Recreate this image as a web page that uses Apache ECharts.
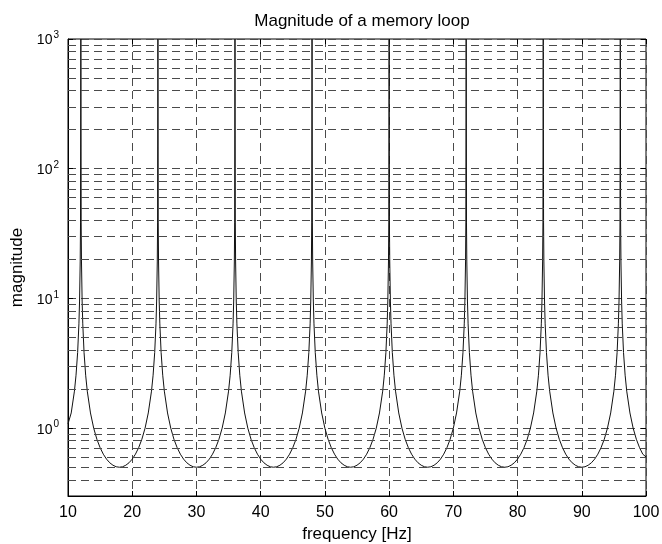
<!DOCTYPE html>
<html>
<head>
<meta charset="utf-8">
<script src="https://cdn.jsdelivr.net/npm/echarts@6/dist/echarts.min.js"></script>
<style>
  html, body { margin: 0; padding: 0; background: #fff; }
  #chart { width: 662px; height: 544px; }
</style>
</head>
<body>
<div id="chart"></div>
<script>
// Frequency samples (Hz), denser near each resonance peak
const frequency = [
  10, 10.5, 11, 11.25, 11.5, 11.7, 11.8, 11.9, 11.95, 12, 12.05, 12.1, 12.2, 12.3, 12.5, 12.75, 13, 13.5, 14, 14.5, 15, 15.5, 16, 16.5, 17, 17.5,
  18, 18.5, 19, 19.5, 20, 20.5, 21, 21.5, 22, 22.5, 23, 23.25, 23.5, 23.7, 23.8, 23.9, 23.95, 24, 24.05, 24.1, 24.2, 24.3, 24.5, 24.75, 25, 25.5, 26, 26.5, 27, 27.5, 28, 28.5, 29, 29.5,
  30, 30.5, 31, 31.5, 32, 32.5, 33, 33.5, 34, 34.5, 35, 35.25, 35.5, 35.7, 35.8, 35.9, 35.95, 36, 36.05, 36.1, 36.2, 36.3, 36.5, 36.75, 37, 37.5, 38, 38.5, 39, 39.5, 40, 40.5, 41, 41.5,
  42, 42.5, 43, 43.5, 44, 44.5, 45, 45.5, 46, 46.5, 47, 47.25, 47.5, 47.7, 47.8, 47.9, 47.95, 48, 48.05, 48.1, 48.2, 48.3, 48.5, 48.75, 49, 49.5, 50, 50.5, 51, 51.5, 52, 52.5, 53, 53.5,
  54, 54.5, 55, 55.5, 56, 56.5, 57, 57.5, 58, 58.5, 59, 59.25, 59.5, 59.7, 59.8, 59.9, 59.95, 60, 60.05, 60.1, 60.2, 60.3, 60.5, 60.75, 61, 61.5, 62, 62.5, 63, 63.5, 64, 64.5, 65, 65.5,
  66, 66.5, 67, 67.5, 68, 68.5, 69, 69.5, 70, 70.5, 71, 71.25, 71.5, 71.7, 71.8, 71.9, 71.95, 72, 72.05, 72.1, 72.2, 72.3, 72.5, 72.75, 73, 73.5, 74, 74.5, 75, 75.5, 76, 76.5, 77, 77.5,
  78, 78.5, 79, 79.5, 80, 80.5, 81, 81.5, 82, 82.5, 83, 83.25, 83.5, 83.7, 83.8, 83.9, 83.95, 84, 84.05, 84.1, 84.2, 84.3, 84.5, 84.75, 85, 85.5, 86, 86.5, 87, 87.5, 88, 88.5, 89, 89.5,
  90, 90.5, 91, 91.5, 92, 92.5, 93, 93.5, 94, 94.5, 95, 95.25, 95.5, 95.7, 95.8, 95.9, 95.95, 96, 96.05, 96.1, 96.2, 96.3, 96.5, 96.75, 97, 97.5, 98, 98.5, 99, 99.5, 100
];

// Loop magnitude at each frequency sample
const magnitude = [
  1.08, 1.31, 1.93, 2.56, 3.83, 6.37, 9.55, 19.1, 38.2, 1000, 38.2, 19.1, 9.55, 6.37, 3.83, 2.56, 1.93, 1.31, 1.0, 0.821, 0.707, 0.63, 0.577, 0.541, 0.518, 0.504,
  0.5, 0.504, 0.518, 0.541, 0.577, 0.63, 0.707, 0.821, 1.0, 1.31, 1.93, 2.56, 3.83, 6.37, 9.55, 19.1, 38.2, 1000, 38.2, 19.1, 9.55, 6.37, 3.83, 2.56, 1.93, 1.31, 1.0, 0.821, 0.707, 0.63, 0.577, 0.541, 0.518, 0.504,
  0.5, 0.504, 0.518, 0.541, 0.577, 0.63, 0.707, 0.821, 1.0, 1.31, 1.93, 2.56, 3.83, 6.37, 9.55, 19.1, 38.2, 1000, 38.2, 19.1, 9.55, 6.37, 3.83, 2.56, 1.93, 1.31, 1.0, 0.821, 0.707, 0.63, 0.577, 0.541, 0.518, 0.504,
  0.5, 0.504, 0.518, 0.541, 0.577, 0.63, 0.707, 0.821, 1.0, 1.31, 1.93, 2.56, 3.83, 6.37, 9.55, 19.1, 38.2, 1000, 38.2, 19.1, 9.55, 6.37, 3.83, 2.56, 1.93, 1.31, 1.0, 0.821, 0.707, 0.63, 0.577, 0.541, 0.518, 0.504,
  0.5, 0.504, 0.518, 0.541, 0.577, 0.63, 0.707, 0.821, 1.0, 1.31, 1.93, 2.56, 3.83, 6.37, 9.55, 19.1, 38.2, 1000, 38.2, 19.1, 9.55, 6.37, 3.83, 2.56, 1.93, 1.31, 1.0, 0.821, 0.707, 0.63, 0.577, 0.541, 0.518, 0.504,
  0.5, 0.504, 0.518, 0.541, 0.577, 0.63, 0.707, 0.821, 1.0, 1.31, 1.93, 2.56, 3.83, 6.37, 9.55, 19.1, 38.2, 1000, 38.2, 19.1, 9.55, 6.37, 3.83, 2.56, 1.93, 1.31, 1.0, 0.821, 0.707, 0.63, 0.577, 0.541, 0.518, 0.504,
  0.5, 0.504, 0.518, 0.541, 0.577, 0.63, 0.707, 0.821, 1.0, 1.31, 1.93, 2.56, 3.83, 6.37, 9.55, 19.1, 38.2, 1000, 38.2, 19.1, 9.55, 6.37, 3.83, 2.56, 1.93, 1.31, 1.0, 0.821, 0.707, 0.63, 0.577, 0.541, 0.518, 0.504,
  0.5, 0.504, 0.518, 0.541, 0.577, 0.63, 0.707, 0.821, 1.0, 1.31, 1.93, 2.56, 3.83, 6.37, 9.55, 19.1, 38.2, 1000, 38.2, 19.1, 9.55, 6.37, 3.83, 2.56, 1.93, 1.31, 1.0, 0.821, 0.707, 0.63, 0.6
];

// Axis ranges and grid levels
const xRange = [10, 100];
const xStep = 10;
const yRange = [0.3, 1000];
const minorLevels = [
  0.4, 0.5, 0.6, 0.7, 0.8, 0.9,
  2, 3, 4, 5, 6, 7, 8, 9,
  20, 30, 40, 50, 60, 70, 80, 90,
  200, 300, 400, 500, 600, 700, 800, 900
];

const FONT = '"Liberation Sans", Arial, Helvetica, sans-serif';
const GRID_COLOR = '#4a4a4a';
const DASH = [8, 5];

const chart = echarts.init(document.getElementById('chart'), null, { renderer: 'canvas' });

function decadeLabel(v) {
  const e = Math.log10(v);
  const r = Math.round(e);
  if (Math.abs(e - r) > 1e-6) return '';
  return '{b|10}{s|' + r + '}';
}

chart.setOption({
  animation: false,
  backgroundColor: '#fff',
  title: {
    text: 'Magnitude of a memory loop',
    left: 357,
    top: 8,
    textAlign: 'center',
    textStyle: { fontFamily: FONT, fontSize: 17, fontWeight: 'normal', color: '#000' }
  },
  grid: {
    left: 68, right: 16, top: 39, bottom: 48,
    containLabel: false,
    outerBoundsMode: 'none',
    show: true, borderColor: '#000', borderWidth: 1, backgroundColor: 'transparent'
  },
  xAxis: [{
    type: 'value',
    min: xRange[0], max: xRange[1], interval: xStep,
    name: 'frequency [Hz]',
    nameLocation: 'middle',
    nameGap: 30,
    nameTextStyle: { fontFamily: FONT, fontSize: 17, color: '#000' },
    axisLine: { show: true, lineStyle: { color: '#000', width: 1 } },
    axisTick: { show: true, inside: true, length: 5, lineStyle: { color: '#000' } },
    axisLabel: { fontFamily: FONT, fontSize: 16, color: '#000', margin: 9 },
    splitLine: { show: true, lineStyle: { color: GRID_COLOR, type: DASH, width: 1 } }
  }, {
    type: 'value',
    position: 'top',
    min: xRange[0], max: xRange[1], interval: xStep,
    axisLine: { show: false },
    axisTick: { show: true, inside: true, length: 5, lineStyle: { color: '#000' } },
    axisLabel: { show: false },
    splitLine: { show: false }
  }],
  yAxis: [{
    type: 'log',
    logBase: 10,
    min: yRange[0], max: yRange[1],
    name: 'magnitude',
    nameLocation: 'middle',
    nameGap: 42,
    nameRotate: 90,
    nameTextStyle: { fontFamily: FONT, fontSize: 17, color: '#000' },
    axisLine: { show: true, lineStyle: { color: '#000', width: 1 } },
    axisTick: { show: true, inside: true, length: 5, lineStyle: { color: '#000' } },
    axisLabel: {
      margin: 9,
      formatter: decadeLabel,
      rich: {
        b: { fontFamily: FONT, fontSize: 14, color: '#000', verticalAlign: 'bottom' },
        s: { fontFamily: FONT, fontSize: 10, color: '#000', verticalAlign: 'top', padding: [0, 0, 7, 1] }
      }
    },
    splitLine: { show: true, lineStyle: { color: GRID_COLOR, type: DASH, width: 1 } }
  }, {
    type: 'log',
    logBase: 10,
    position: 'right',
    min: yRange[0], max: yRange[1],
    axisLine: { show: false },
    axisTick: { show: true, inside: true, length: 5, lineStyle: { color: '#000' } },
    axisLabel: { show: false },
    splitLine: { show: false }
  }],
  series: [{
    type: 'line',
    xAxisIndex: 0,
    yAxisIndex: 0,
    data: frequency.map((f, i) => [f, magnitude[i]]),
    showSymbol: false,
    symbol: 'none',
    clip: true,
    lineStyle: { color: '#111', width: 1 },
    markLine: {
      silent: true,
      symbol: ['none', 'none'],
      label: { show: false },
      lineStyle: { color: GRID_COLOR, type: DASH, width: 1 },
      data: minorLevels.map(v => ({ yAxis: v }))
    }
  }]
});
</script>
</body>
</html>
